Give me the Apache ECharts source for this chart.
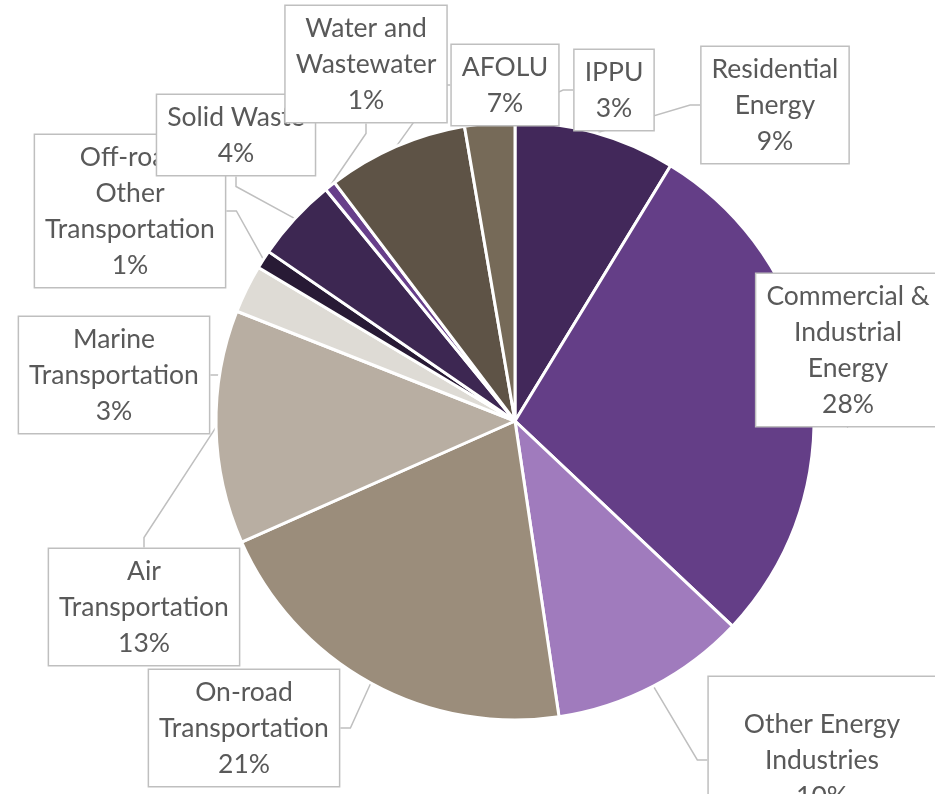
<!DOCTYPE html>
<html>
<head>
<meta charset="utf-8">
<script src="https://cdn.jsdelivr.net/npm/echarts@6/dist/echarts.min.js"></script>
<style>html,body{margin:0;padding:0;background:#fff;}#c{width:935px;height:794px;}</style>
</head>
<body>
<div id="c"></div>
<script>
const categories = [
  'Residential\nEnergy',
  'Commercial &\nIndustrial\nEnergy',
  'Other Energy\nIndustries',
  'On-road\nTransportation',
  'Air\nTransportation',
  'Marine\nTransportation',
  'Off-road\nOther\nTransportation',
  'Solid Waste',
  'Water and\nWastewater',
  'AFOLU',
  'IPPU'
];
const values = [8.7, 28.3, 10.6, 20.7, 12.6, 2.6, 1.0, 4.5, 0.6, 7.6, 2.7];
const pctLabels = ['9%', '28%', '10%', '21%', '13%', '3%', '1%', '4%', '1%', '7%', '3%'];
const colors = ['#42285A', '#643E87', '#A07BBD', '#9B8D7B', '#B8AEA2', '#DEDBD5', '#281A35', '#3D2752', '#673F8A', '#5E5346', '#766A58'];

// label box centres (layout only)
const labelCenters = [
  [775, 105], [848, 350], [822, 760], [244, 728], [144, 607], [114, 375],
  [130, 211], [236, 135], [366, 64], [505, 85], [614, 90]
];
const labelPadding = {2: [29, 35, 29, 35]};

const chart = echarts.init(document.getElementById('c'), null, {renderer: 'canvas'});
chart.setOption({
  animation: false,
  backgroundColor: '#ffffff',
  series: [{
    type: 'pie',
    center: [515, 421],
    radius: 299,
    startAngle: 90,
    clockwise: true,
    avoidLabelOverlap: false,
    data: categories.map((c, i) => ({
      name: c,
      value: values[i],
      pct: pctLabels[i],
      itemStyle: {color: colors[i]},
      label: labelPadding[i] ? {padding: labelPadding[i]} : undefined
    })),
    itemStyle: {borderColor: '#ffffff', borderWidth: 3},
    label: {
      show: true,
      position: 'outside',
      formatter: p => p.name + '\n' + p.data.pct,
      fontFamily: 'Lato',
      fontSize: 26.5,
      lineHeight: 36,
      color: '#595959',
      align: 'center',
      backgroundColor: '#ffffff',
      borderColor: '#BFBFBF',
      borderWidth: 1.5,
      padding: [4, 10, 4, 10]
    },
    labelLine: {
      show: true,
      length: 10,
      length2: 10,
      lineStyle: {color: '#BFBFBF', width: 1.5}
    },
    labelLayout: function (params) {
      const c = labelCenters[params.dataIndex];
      return {x: c[0], y: c[1], align: 'center', verticalAlign: 'middle'};
    },
    emphasis: {disabled: true}
  }]
});
</script>
</body>
</html>
